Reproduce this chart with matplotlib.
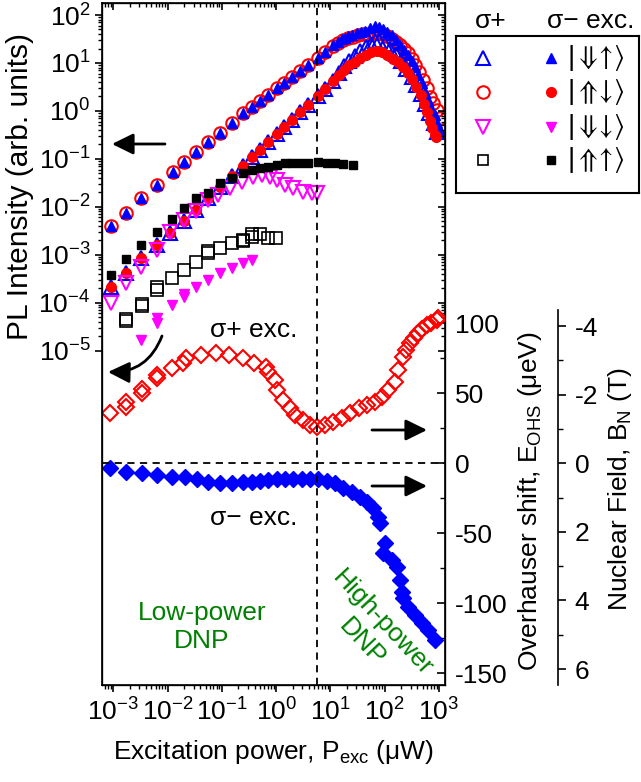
import matplotlib
matplotlib.use('Agg')
import matplotlib.pyplot as plt
from matplotlib.ticker import FixedLocator, FixedFormatter, NullFormatter

plt.rcParams['font.family'] = ['Liberation Sans', 'DejaVu Sans']
plt.rcParams['mathtext.fontset'] = 'custom'
plt.rcParams['mathtext.rm'] = 'Liberation Sans'
plt.rcParams['mathtext.it'] = 'Liberation Sans:italic'
plt.rcParams['mathtext.bf'] = 'Liberation Sans:bold'
plt.rcParams['axes.unicode_minus'] = False

W, H = 641, 782
FS = 19

# ---------------- data: PL intensity (arb. units) vs excitation power (uW) ----------------
# sigma- |dn-up>  (filled blue up triangles)  - bright, upper curve
p_sm_du = [8.9e-4, 1.7e-3, 3.24e-3, 6.3e-3, 0.0124, 0.0203, 0.0333, 0.0562, 0.0923, 0.151,
           0.248, 0.363, 0.504, 0.716, 1.02, 1.41, 1.93, 2.74, 3.90, 5.81, 7.93, 11.3,
           13.5, 16.1, 18.6, 21.3, 25.1, 30.3, 36.3, 43.2, 52.5, 65.9, 79.4, 93.8, 112, 134,
           158, 191, 229, 271, 316, 360, 417, 479, 550, 631, 724, 841, 933, 1040]
i_sm_du = [3.98e-3, 7.59e-3, 0.0151, 0.0285, 0.0541, 0.0875, 0.141, 0.228, 0.352, 0.569,
           0.891, 1.22, 1.61, 2.15, 2.96, 3.88, 5.18, 6.79, 9.06, 12.5, 17.2, 23.7,
           27.5, 31.1, 33.9, 36.5, 38.9, 41.5, 44.7, 47.1, 52.5, 59.0, 55.0, 50.1, 44.7, 38.3,
           30.2, 23.7, 18.6, 14.7, 11.0, 8.36, 5.62, 3.77, 2.51, 1.69, 1.17, 0.822, 0.562, 0.40]

# sigma+ |up-dn>  (open red circles) - bright, upper curve
p_sp_ud = [8.9e-4, 1.7e-3, 3.24e-3, 6.3e-3, 0.0124, 0.0203, 0.0333, 0.0562, 0.0923, 0.151,
           0.248, 0.363, 0.504, 0.716, 1.02, 1.41, 1.93, 2.74, 3.90, 5.81, 7.93, 11.3,
           13.5, 17.0, 21.4, 26.3, 32.4, 39.8, 49.0, 60.3, 74.1, 91.2, 112, 135, 162, 191,
           229, 271, 316, 360, 427, 512, 589, 679, 776, 904, 1040]
i_sp_ud = [3.98e-3, 7.59e-3, 0.0151, 0.0285, 0.0541, 0.0875, 0.141, 0.228, 0.352, 0.569,
           0.891, 1.22, 1.61, 2.15, 2.96, 3.88, 5.18, 6.79, 9.06, 12.5, 17.0, 22.4,
           25.7, 30.1, 33.1, 35.3, 37.6, 39.5, 40.7, 41.7, 41.7, 39.8, 36.3, 31.6, 26.9, 23.4,
           19.5, 15.8, 12.0, 9.06, 6.46, 4.42, 2.95, 1.98, 1.45, 1.05, 0.70]

# sigma+ |dn-up>  (open blue up triangles) - lower curve
p_sp_du = [8.9e-4, 1.7e-3, 3.24e-3, 6.3e-3, 0.0111, 0.0203, 0.0333, 0.0562, 0.0923, 0.151,
           0.248, 0.363, 0.504, 0.716, 1.02, 1.41, 1.93, 2.74, 3.90, 5.81, 7.93, 11.3,
           14.1, 17.8, 22.4, 28.2, 35.5, 44.7, 56.2, 66.1, 79.4, 100, 126, 158, 200, 251,
           316, 380, 457, 550, 661, 794, 933]
i_sp_du = [2.16e-4, 4.24e-4, 8.45e-4, 1.60e-3, 2.81e-3, 5.14e-3, 8.59e-3, 0.0151, 0.0255, 0.0431,
           0.0726, 0.109, 0.154, 0.224, 0.326, 0.459, 0.640, 0.929, 1.35, 2.06, 2.86, 4.16,
           6.31, 8.51, 11.2, 14.1, 17.8, 21.4, 25.1, 28.2, 28.2, 25.1, 20.0, 15.1, 11.0, 7.59,
           5.01, 3.39, 2.24, 1.41, 0.891, 0.562, 0.355]

# sigma- |up-dn>  (filled red circles) - lower curve
p_sm_ud = [8.9e-4, 1.7e-3, 3.24e-3, 6.3e-3, 0.0111, 0.0203, 0.0333, 0.0562, 0.0923, 0.151,
           0.248, 0.363, 0.504, 0.716, 1.02, 1.41, 1.93, 2.74, 3.90, 5.81, 7.93, 11.3,
           14.1, 17.8, 22.4, 28.2, 35.5, 44.7, 56.2, 70.8, 89.1, 112, 141, 178, 214, 263,
           316, 380, 457, 525, 603, 676, 759, 851, 880]
i_sm_ud = [2.16e-4, 4.24e-4, 8.45e-4, 1.60e-3, 2.81e-3, 5.14e-3, 8.59e-3, 0.0151, 0.0255, 0.0431,
           0.0726, 0.109, 0.154, 0.224, 0.326, 0.459, 0.640, 0.929, 1.35, 2.06, 2.86, 4.17,
           5.62, 7.24, 8.91, 10.7, 12.6, 14.8, 16.6, 17.4, 16.6, 14.5, 12.3, 10.5, 8.32, 6.31,
           4.57, 3.16, 2.14, 1.41, 0.955, 0.631, 0.447, 0.316, 0.282]

# sigma+ |dn-dn>  (open magenta down triangles)
p_sp_dd = [8.9e-4, 1.7e-3, 3.24e-3, 6.3e-3, 0.0111, 0.0203, 0.0333, 0.0562, 0.0859, 0.141,
           0.232, 0.380, 0.541, 0.769, 1.02, 1.45, 2.07, 3.16, 4.51, 5.62]
i_sp_dd = [9.75e-5, 2.55e-4, 5.65e-4, 1.26e-3, 3.03e-3, 5.32e-3, 8.32e-3, 0.0139, 0.0177, 0.0243,
           0.0335, 0.0427, 0.0461, 0.0427, 0.0363, 0.0285, 0.0243, 0.0207, 0.0191, 0.0191]

# sigma- |up-up>  (filled black squares)
p_sm_uu = [8.9e-4, 1.7e-3, 3.24e-3, 6.3e-3, 0.0119, 0.0203, 0.0333, 0.0562, 0.0923, 0.151,
           0.248, 0.363, 0.504, 0.716, 1.02, 1.45, 1.93, 2.74, 3.90, 5.81, 8.51, 12.1,
           17.2, 26.3]
i_sm_uu = [3.79e-4, 8.05e-4, 1.60e-3, 3.03e-3, 5.50e-3, 9.33e-3, 0.0151, 0.0191, 0.0309, 0.0394,
           0.0515, 0.0586, 0.0635, 0.0687, 0.0745, 0.0809, 0.0809, 0.0832, 0.0832, 0.0875, 0.0809, 0.0809,
           0.0771, 0.0745]

# sigma+ |up-up>  (open black squares)
p_sp_uu = [1.71e-3, 1.71e-3, 3.33e-3, 3.33e-3, 6.3e-3, 6.3e-3, 0.0119, 0.0203, 0.0333, 0.0562,
           0.0562, 0.0923, 0.151, 0.248, 0.248, 0.363, 0.363, 0.504, 0.716, 0.991]
i_sp_uu = [4.17e-5, 4.68e-5, 8.57e-5, 9.55e-5, 1.85e-4, 2.09e-4, 3.24e-4, 4.82e-4, 7.18e-4, 1.07e-3,
           1.20e-3, 1.36e-3, 1.74e-3, 2.04e-3, 1.95e-3, 2.39e-3, 2.65e-3, 2.72e-3, 2.21e-3, 2.21e-3]

# sigma- |dn-dn>  (filled magenta down triangles)
p_sm_dd = [3.24e-3, 6.3e-3, 6.3e-3, 0.0119, 0.0203, 0.0203, 0.0333, 0.0562, 0.0923, 0.151,
           0.248, 0.363]
i_sm_dd = [1.67e-5, 3.72e-5, 4.73e-5, 8.97e-5, 1.34e-4, 1.55e-4, 2.16e-4, 2.98e-4, 4.11e-4, 5.22e-4,
           6.64e-4, 7.80e-4]

# ---------------- data: Overhauser shift (ueV) vs excitation power (uW) ----------------
p_ohs_sp = [8.7e-4, 1.7e-3, 1.7e-3, 3.31e-3, 3.31e-3, 6.3e-3, 6.3e-3, 0.0119, 0.0195, 0.0214,
            0.0407, 0.0776, 0.135, 0.240, 0.398, 0.646, 0.716, 0.953, 1.02, 1.35, 1.78, 2.24,
            3.16, 4.17, 5.57, 7.94, 11.2, 16.2, 22.9, 33.1, 46.8, 66.1, 89.1, 117, 155, 178,
            214, 251, 291, 347, 414, 490, 590, 724, 904, 977]
e_ohs_sp = [36.1, 40.4, 44.0, 50.0, 53.0, 60.7, 63.0, 67.9, 71.4, 75.0,
            77.4, 78.6, 77.4, 75.0, 71.4, 69.0, 65.4, 59.5, 52.4, 45.2, 39.3, 34.5,
            30.9, 27.4, 26.1, 27.4, 29.7, 32.1, 35.7, 39.3, 41.6, 44.0, 47.6, 52.4, 58.3, 66.6,
            76.1, 81.0, 85.7, 89.5, 92.9, 96.0, 98.8, 100.5, 102.4, 104.0]

p_ohs_sm = [8.7e-4, 1.7e-3, 3.31e-3, 6.3e-3, 0.0119, 0.0209, 0.0347, 0.0562, 0.0923, 0.151,
            0.248, 0.355, 0.504, 0.716, 1.02, 1.45, 2.07, 2.95, 4.17, 5.97, 8.51, 12.1,
            17.2, 24.5, 35.1, 46.8, 61.7, 75.9, 81.3, 100, 93.3, 135, 166, 191, 204, 219,
            269, 360, 479, 631, 841]
e_ohs_sm = [-3.6, -6.0, -6.7, -8.4, -10.0, -9.6, -11.4, -13.1, -13.8, -13.8,
            -13.1, -13.1, -12.4, -11.9, -11.4, -11.4, -11.4, -11.0, -11.0, -11.0, -12.4, -14.3,
            -17.4, -20.3, -23.9, -27.4, -32.1, -38.1, -42.9, -57.1, -64.3, -69.0, -73.9, -83.4, -91.7, -96.4,
            -102.4, -108.4, -114.3, -119.0, -126.2]

P_DNP_BOUNDARY = 5.6   # uW, dashed vertical line
UEV_PER_TESLA = 24.5   # conversion E_OHS -> B_N

x_major = [1e-3, 1e-2, 1e-1, 1e0, 1e1, 1e2, 1e3]
x_labels = ['10$^{-3}$', '10$^{-2}$', '10$^{-1}$', '10$^{0}$', '10$^{1}$', '10$^{2}$', '10$^{3}$']
y_major = [1e-5, 1e-4, 1e-3, 1e-2, 1e-1, 1e0, 1e1, 1e2]
y_labels = ['10$^{-5}$', '10$^{-4}$', '10$^{-3}$', '10$^{-2}$', '10$^{-1}$', '10$^{0}$', '10$^{1}$', '10$^{2}$']
e_major = [-150, -100, -50, 0, 50, 100]
e_minor = [-125, -75, -25, 25, 75]
b_major = [-4, -2, 0, 2, 4, 6]
b_minor = [-3, -1, 1, 3, 5]

# ---------------- layout ----------------
def fx(px):
    return px / W

def fy(py):
    return 1 - py / H

X0, X1, Y0, Y1 = 101.7, 445.0, 3.0, 685.0
rect = [fx(X0), fy(Y1), fx(X1) - fx(X0), fy(Y0) - fy(Y1)]

fig = plt.figure(figsize=(W / 100, H / 100), dpi=100)
ax = fig.add_axes(rect)
ax.set_xscale('log')
ax.set_yscale('log')
XLIM = (6.1e-4, 1290)
ax.set_xlim(*XLIM)
YLIM = (1.07e-12, 178)
ax.set_ylim(*YLIM)

minor_x = [m * 10.0 ** k for k in range(-4, 4) for m in range(2, 10)]
minor_x = [v for v in minor_x if XLIM[0] < v < XLIM[1]]
minor_y = [m * 10.0 ** k for k in range(-5, 2) for m in range(2, 10)]

ax.xaxis.set_major_locator(FixedLocator(x_major))
ax.xaxis.set_major_formatter(FixedFormatter(x_labels))
ax.xaxis.set_minor_locator(FixedLocator(minor_x))
ax.xaxis.set_minor_formatter(NullFormatter())
ax.yaxis.set_major_locator(FixedLocator(y_major))
ax.yaxis.set_major_formatter(FixedFormatter(y_labels))
ax.yaxis.set_minor_locator(FixedLocator(minor_y))
ax.yaxis.set_minor_formatter(NullFormatter())
ax.tick_params(axis='both', which='major', direction='out', length=5, width=1.2, labelsize=FS, pad=3)
ax.tick_params(axis='both', which='minor', direction='out', length=3, width=1.0)
ax.tick_params(axis='x', which='major', pad=5)
for s in ax.spines.values():
    s.set_linewidth(1.2)

# top ticks (inward)
axt = ax.twiny()
axt.set_xscale('log')
axt.set_xlim(*XLIM)
axt.xaxis.set_major_locator(FixedLocator(x_major))
axt.xaxis.set_minor_locator(FixedLocator(minor_x))
axt.xaxis.set_major_formatter(NullFormatter())
axt.xaxis.set_minor_formatter(NullFormatter())
axt.tick_params(axis='x', which='major', direction='in', length=5, width=1.2, top=True, labeltop=False)
axt.tick_params(axis='x', which='minor', direction='in', length=3, width=1.0)

# right log ticks (inward)
axr = ax.twinx()
axr.set_yscale('log')
axr.set_ylim(*YLIM)
axr.yaxis.set_major_locator(FixedLocator(y_major))
axr.yaxis.set_minor_locator(FixedLocator(minor_y))
axr.yaxis.set_major_formatter(NullFormatter())
axr.yaxis.set_minor_formatter(NullFormatter())
axr.tick_params(axis='y', which='major', direction='in', length=5, width=1.2, right=True, labelright=False)
axr.tick_params(axis='y', which='minor', direction='in', length=3, width=1.0)

# Overhauser axis
ax2 = ax.twinx()
ELIM = (-158.4, 328.8)
ax2.set_ylim(*ELIM)
ax2.yaxis.set_major_locator(FixedLocator(e_major))
ax2.yaxis.set_minor_locator(FixedLocator(e_minor))
ax2.tick_params(axis='y', which='major', direction='in', length=6, width=1.2, labelsize=FS, pad=7)
ax2.tick_params(axis='y', which='minor', direction='in', length=3.5, width=1.0)

# Nuclear field axis
ax3 = ax.twinx()
ax3.set_ylim(ELIM[0] / -UEV_PER_TESLA, ELIM[1] / -UEV_PER_TESLA)
for k in ['left', 'top', 'bottom']:
    ax3.spines[k].set_visible(False)
ax3.spines['right'].set_position(('axes', (558 - X0) / (X1 - X0)))
ax3.spines['right'].set_linewidth(1.2)
ax3.spines['right'].set_bounds(-109.5 / UEV_PER_TESLA, ELIM[0] / -UEV_PER_TESLA)
ax3.yaxis.set_major_locator(FixedLocator(b_major))
ax3.yaxis.set_minor_locator(FixedLocator(b_minor))
ax3.tick_params(axis='y', which='major', direction='out', length=6, width=1.2, labelsize=FS, pad=6)
ax3.tick_params(axis='y', which='minor', direction='out', length=3.5, width=1.0)

# ---------------- data marks ----------------
mew = 1.5
ax.plot(p_sp_ud, i_sp_ud, 'o', ms=9, mfc='none', mec='red', mew=mew, ls='none')
ax.plot(p_sm_du, i_sm_du, '^', ms=7.5, color='blue', ls='none')
ax.plot(p_sp_du, i_sp_du, '^', ms=9.5, mfc='none', mec='blue', mew=mew, ls='none')
ax.plot(p_sm_ud, i_sm_ud, 'o', ms=7, color='red', ls='none')
ax.plot(p_sp_dd, i_sp_dd, 'v', ms=9.5, mfc='none', mec='magenta', mew=mew, ls='none')
ax.plot(p_sm_uu, i_sm_uu, 's', ms=6, color='black', ls='none')
ax.plot(p_sp_uu, i_sp_uu, 's', ms=8, mfc='none', mec='black', mew=1.2, ls='none')
ax.plot(p_sm_dd, i_sm_dd, 'v', ms=7.5, color='magenta', ls='none')

ax2.plot(p_ohs_sp, e_ohs_sp, 'D', ms=8, mfc='none', mec='red', mew=mew, ls='none')
ax2.plot(p_ohs_sm, e_ohs_sm, 'D', ms=8.5, color='blue', ls='none')
ax2.axhline(0, color='black', lw=1.3, ls=(0, (4, 3)))
ax2.axvline(P_DNP_BOUNDARY, color='black', lw=1.3, ls=(0, (4, 3)))

# ---------------- annotations ----------------
def fp(px, py):
    return (px, H - py)

aprops = dict(arrowstyle='-|>,head_length=0.65,head_width=0.32', mutation_scale=20,
              lw=2, color='black', shrinkA=0, shrinkB=0)
ax.annotate('', xy=fp(112, 144), xytext=fp(165, 144), xycoords='figure pixels',
            textcoords='figure pixels', arrowprops=aprops)
ax.annotate('', xy=fp(427, 430), xytext=fp(372, 430), xycoords='figure pixels',
            textcoords='figure pixels', arrowprops=aprops)
ax.annotate('', xy=fp(427, 486), xytext=fp(372, 486), xycoords='figure pixels',
            textcoords='figure pixels', arrowprops=aprops)
cprops = dict(aprops)
cprops['connectionstyle'] = 'arc3,rad=-0.35'
ax.annotate('', xy=fp(108, 372), xytext=fp(162, 336), xycoords='figure pixels',
            textcoords='figure pixels', arrowprops=cprops)

fig.text(fx(254), fy(330), 'σ+ exc.', fontsize=FS, ha='center', va='center')
fig.text(fx(254), fy(518), 'σ− exc.', fontsize=FS, ha='center', va='center')
fig.text(fx(202), fy(627), 'Low-power\nDNP', fontsize=FS, ha='center', va='center',
         color='#008000', multialignment='center')
fig.text(fx(372), fy(633), 'High-power\nDNP', fontsize=FS, ha='center', va='center',
         color='#008000', multialignment='center', rotation=-47)

# axis labels
fig.text(fx(20), fy(187), 'PL Intensity (arb. units)', fontsize=21.5, rotation=90,
         ha='center', va='center')
fig.text(fx(273), fy(752), 'Excitation power, P$_{\\mathregular{exc}}$ (μW)', fontsize=FS,
         ha='center', va='center')
fig.text(fx(530), fy(501), 'Overhauser shift, E$_{\\mathregular{OHS}}$ (μeV)', fontsize=FS,
         rotation=90, ha='center', va='center')
fig.text(fx(620), fy(489), 'Nuclear Field, B$_{\\mathregular{N}}$ (T)', fontsize=FS,
         rotation=90, ha='center', va='center')

# ---------------- legend ----------------
LX0, LX1, LY0, LY1 = 456, 639, 36, 193
lax = fig.add_axes([fx(LX0), fy(LY1), fx(LX1) - fx(LX0), fy(LY0) - fy(LY1)])
lax.set_xlim(LX0, LX1)
lax.set_ylim(LY1, LY0)
lax.set_xticks([])
lax.set_yticks([])
for s in lax.spines.values():
    s.set_linewidth(1.5)
rows = [58, 92, 127, 160]
open_specs = [('^', 'blue', 9.5), ('o', 'red', 9), ('v', 'magenta', 9.5), ('s', 'black', 7.5)]
fill_specs = [('^', 'blue', 7), ('o', 'red', 7), ('v', 'magenta', 7), ('s', 'black', 6)]
kets = [r'|${\Downarrow}\!\!{\uparrow}\!\rangle$', r'|${\Uparrow}\!\!{\downarrow}\!\rangle$',
        r'|${\Downarrow}\!\!{\downarrow}\!\rangle$', r'|${\Uparrow}\!\!{\uparrow}\!\rangle$']
for r, (m1, c1, s1), (m2, c2, s2), k in zip(rows, open_specs, fill_specs, kets):
    lax.plot([483], [r], m1, ms=s1, mfc='none', mec=c1, mew=1.5 if c1 != 'black' else 1.2)
    lax.plot([551], [r], m2, ms=s2, color=c2)
    lax.text(567, r, k, fontsize=20, ha='left', va='center', math_fontfamily='stixsans')
fig.text(fx(491), fy(21), 'σ+', fontsize=FS, ha='center', va='center')
fig.text(fx(591), fy(21), 'σ− exc.', fontsize=FS, ha='center', va='center')

fig.savefig('out.png', dpi=100)
